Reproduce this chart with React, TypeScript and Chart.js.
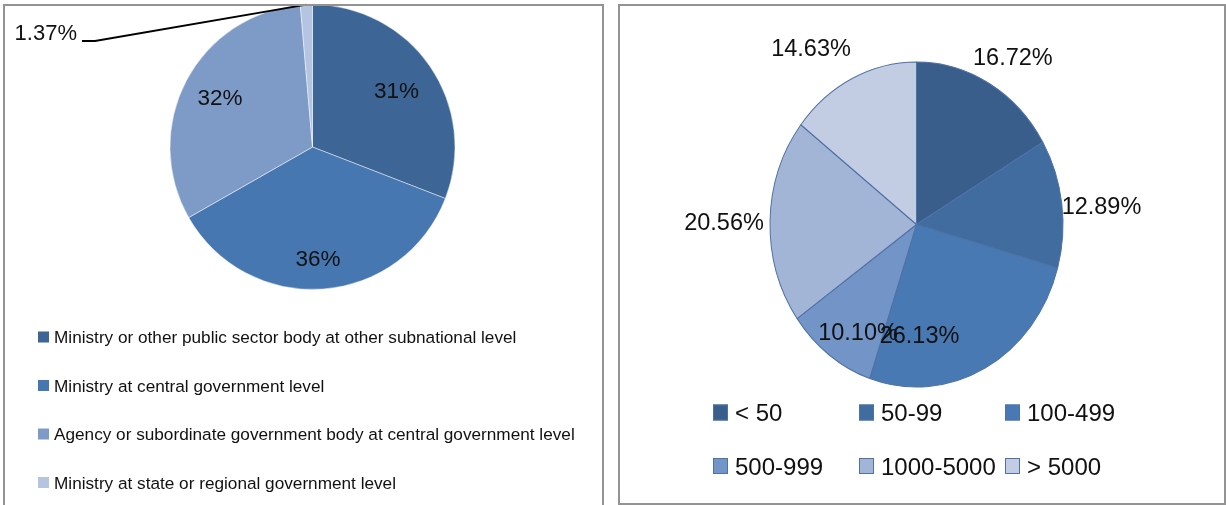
import React, { useEffect, useRef } from 'react';
import { Chart, registerables } from 'chart.js';

Chart.register(...registerables);

// ---------- data ----------
const leftCategories = [
  'Ministry or other public sector body at other subnational level',
  'Ministry at central government level',
  'Agency or subordinate government body at central government level',
  'Ministry at state or regional government level',
];
const leftValues = [31, 36, 32, 1.37];

const rightCategories = ['< 50', '50-99', '100-499', '500-999', '1000-5000', '> 5000'];
const rightValues = [16.72, 12.89, 26.13, 10.1, 20.56, 14.63];

// ---------- styles ----------
const FONT = '"Liberation Sans", Arial, sans-serif';
const LEFT_COLORS = ['#3D6596', '#4777B1', '#7E9BC8', '#B4C4E1'];
const RIGHT_COLORS = ['#3A5E8C', '#406CA0', '#4979B3', '#7394C6', '#A2B5D6', '#C2CDE3'];
const RIGHT_BORDER = '#4E72A6';
const RIGHT_Y_SCALE = 162.5 / 146.5;

// label placement: radial factor f and angular shift da (degrees, clockwise)
const LEFT_LABEL_PLACE = [
  { f: 0.712, da: 0.2 },
  { f: 0.78, da: 1.4 },
  { f: 0.738, da: 0.7 },
  null,
];
const RIGHT_LABEL_PLACE = [
  { f: 1.225, da: 2.7 },
  { f: 1.268, da: 2.2 },
  { f: 0.68, da: 26.2 },
  { f: 0.77, da: -5.4 },
  { f: 1.314, da: -0.5 },
  { f: 1.306, da: -7.4 },
];

function drawCenteredText(ctx: CanvasRenderingContext2D, text: string, x: number, y: number, size: number, align: CanvasTextAlign = 'center') {
  ctx.font = `${size}px ${FONT}`;
  ctx.textAlign = align;
  ctx.textBaseline = 'alphabetic';
  ctx.fillText(text, x, y + size * 0.358);
}

const fmtLeft = (v: number) => `${v}%`;
const fmtRight = (v: number) => `${v.toFixed(2)}%`;

// ---------- plugins ----------
const leftDecor = {
  id: 'leftDecor',
  afterDraw(chart: any) {
    const ctx: CanvasRenderingContext2D = chart.ctx;
    const meta = chart.getDatasetMeta(0);
    const values: number[] = chart.data.datasets[0].data;
    ctx.save();
    ctx.fillStyle = '#111';
    meta.data.forEach((arc: any, i: number) => {
      const { x, y, startAngle, endAngle, outerRadius } = arc.getProps(['x', 'y', 'startAngle', 'endAngle', 'outerRadius'], true);
      const mid = (startAngle + endAngle) / 2;
      const place = LEFT_LABEL_PLACE[i];
      if (place) {
        const a = mid + (place.da * Math.PI) / 180;
        const lx = x + Math.cos(a) * outerRadius * place.f;
        const ly = y + Math.sin(a) * outerRadius * place.f;
        drawCenteredText(ctx, fmtLeft(values[i]), lx, ly, 22.5);
      } else {
        // leader line label
        const px = x + Math.cos(mid) * outerRadius;
        const py = y + Math.sin(mid) * outerRadius;
        const elbowX = 95, elbowY = 41, endX = 82;
        ctx.strokeStyle = '#000';
        ctx.lineWidth = 1.8;
        ctx.beginPath();
        ctx.moveTo(px, py);
        ctx.lineTo(elbowX, elbowY);
        ctx.lineTo(endX, elbowY);
        ctx.stroke();
        drawCenteredText(ctx, fmtLeft(values[i]), 77, 32.5, 22, 'right');
      }
    });
    // legend
    const colors: string[] = chart.data.datasets[0].backgroundColor;
    (chart.data.labels as string[]).forEach((lab, i) => {
      const cy = 337 + i * 48.5;
      ctx.fillStyle = colors[i];
      ctx.fillRect(38, cy - 5.5, 11, 11);
      ctx.fillStyle = '#111';
      drawCenteredText(ctx, lab, 54, cy, 17.2, 'left');
    });
    ctx.restore();
  },
};

const rightDecor = {
  id: 'rightDecor',
  beforeDatasetsDraw(chart: any) {
    const ctx: CanvasRenderingContext2D = chart.ctx;
    const a = chart.chartArea;
    const cx = (a.left + a.right) / 2;
    const cy = (a.top + a.bottom) / 2;
    ctx.save();
    ctx.translate(cx, cy);
    ctx.scale(1, RIGHT_Y_SCALE);
    ctx.translate(-cx, -cy);
  },
  afterDatasetsDraw(chart: any) {
    chart.ctx.restore();
  },
  afterDraw(chart: any) {
    const ctx: CanvasRenderingContext2D = chart.ctx;
    const meta = chart.getDatasetMeta(0);
    const values: number[] = chart.data.datasets[0].data;
    ctx.save();
    ctx.fillStyle = '#111';
    meta.data.forEach((arc: any, i: number) => {
      const { x, y, startAngle, endAngle, outerRadius } = arc.getProps(['x', 'y', 'startAngle', 'endAngle', 'outerRadius'], true);
      const place = RIGHT_LABEL_PLACE[i];
      const a = (startAngle + endAngle) / 2 + (place.da * Math.PI) / 180;
      const lx = x + Math.cos(a) * outerRadius * place.f;
      const ly = y + Math.sin(a) * outerRadius * place.f * RIGHT_Y_SCALE;
      drawCenteredText(ctx, fmtRight(values[i]), lx, ly, 23.5);
    });
    // legend grid
    const colors: string[] = chart.data.datasets[0].backgroundColor;
    const cols = [103, 249, 395];
    const rows = [412.5, 466];
    (chart.data.labels as string[]).forEach((lab, i) => {
      const bx = cols[i % 3];
      const cy = rows[Math.floor(i / 3)];
      ctx.fillStyle = colors[i];
      ctx.fillRect(bx, cy - 8, 15, 16);
      ctx.strokeStyle = RIGHT_BORDER;
      ctx.lineWidth = 1;
      ctx.strokeRect(bx + 0.5, cy - 7.5, 14, 15);
      ctx.fillStyle = '#111';
      drawCenteredText(ctx, lab, bx + 22, cy, 24, 'left');
    });
    ctx.restore();
  },
};

function PieCanvas({ config, width, height, left }: { config: any; width: number; height: number; left: number }) {
  const ref = useRef<HTMLCanvasElement | null>(null);
  useEffect(() => {
    if (!ref.current) return;
    const chart = new Chart(ref.current, config);
    return () => chart.destroy();
  }, []);
  return (
    <canvas
      ref={ref}
      width={width}
      height={height}
      style={{ position: 'absolute', left, top: 0, width, height }}
    />
  );
}

const baseOptions = {
  responsive: false,
  animation: false,
  events: [],
  plugins: { legend: { display: false }, tooltip: { enabled: false } },
};

const leftConfig = {
  type: 'pie',
  data: {
    labels: leftCategories,
    datasets: [
      {
        data: leftValues,
        backgroundColor: LEFT_COLORS,
        borderColor: 'rgba(255,255,255,0.45)',
        borderWidth: 1,
        hoverOffset: 0,
        clip: false,
      },
    ],
  },
  options: {
    ...baseOptions,
    layout: { padding: { left: 169.5, right: 154.5, top: 4, bottom: 215 } },
  },
  plugins: [leftDecor],
};

const rightConfig = {
  type: 'pie',
  data: {
    labels: rightCategories,
    datasets: [
      {
        data: rightValues,
        backgroundColor: RIGHT_COLORS,
        borderColor: RIGHT_BORDER,
        borderWidth: 1,
        hoverOffset: 0,
        clip: false,
      },
    ],
  },
  options: {
    ...baseOptions,
    layout: { padding: { left: 159.5, right: 162.5, top: 77.5, bottom: 133.5 } },
  },
  plugins: [rightDecor],
};

export default function App() {
  const border = '2px solid #939393';
  return (
    <div
      style={{
        position: 'absolute',
        left: 0,
        top: 0,
        width: 1226,
        height: 505,
        overflow: 'hidden',
        background: '#fff',
      }}
    >
      <PieCanvas config={leftConfig} width={610} height={505} left={0} />
      <PieCanvas config={rightConfig} width={616} height={505} left={610} />
      <div
        style={{
          position: 'absolute',
          left: 3,
          top: 4,
          width: 597,
          height: 520,
          border,
          boxSizing: 'content-box',
          pointerEvents: 'none',
        }}
      />
      <div
        style={{
          position: 'absolute',
          left: 618,
          top: 4,
          width: 604,
          height: 497,
          border,
          boxSizing: 'content-box',
          pointerEvents: 'none',
        }}
      />
    </div>
  );
}
